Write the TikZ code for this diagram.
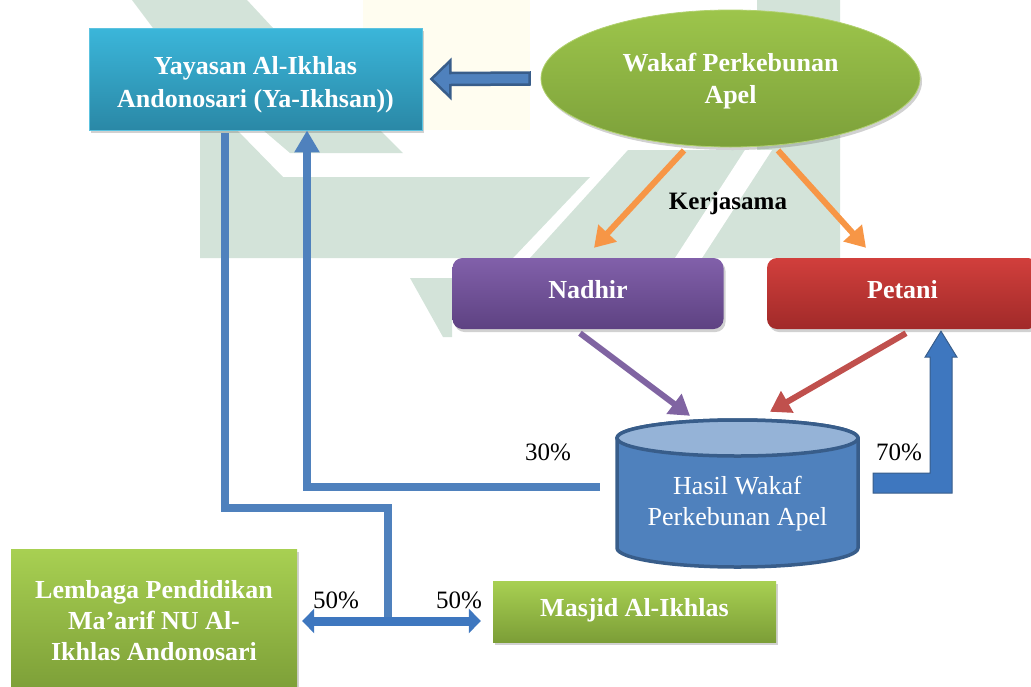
\documentclass[tikz,border=0pt]{standalone}
\usepackage{fontspec}
\setmainfont{Liberation Serif}
\usetikzlibrary{arrows.meta,shadows,calc,shapes.geometric}
\definecolor{wm}{HTML}{D3E3D9}
\definecolor{wmy}{HTML}{FFFDF0}
\definecolor{yayT}{HTML}{3BB6DA}
\definecolor{yayB}{HTML}{2A88A6}
\definecolor{yayE}{HTML}{5CC3E0}
\definecolor{wakT}{HTML}{9DC54B}
\definecolor{wakB}{HTML}{7CA03A}
\definecolor{nadT}{HTML}{8160AA}
\definecolor{nadB}{HTML}{5E4282}
\definecolor{petT}{HTML}{D13F3C}
\definecolor{petB}{HTML}{A12A29}
\definecolor{grnT}{HTML}{A8D052}
\definecolor{grnB}{HTML}{7C9E37}
\definecolor{bluF}{HTML}{4F81BD}
\definecolor{bluD}{HTML}{385D8A}
\definecolor{bluL}{HTML}{95B3D7}
\definecolor{orA}{HTML}{F79646}
\definecolor{puA}{HTML}{8064A2}
\definecolor{reA}{HTML}{C0504D}
\definecolor{dblA}{HTML}{3E77BF}
\begin{document}
\begin{tikzpicture}[x=1pt,y=-1pt,
  lbl/.style={text=white,font=\bfseries\fontsize{26}{32}\selectfont,align=center,inner sep=0pt},
  one/.style={text height=18pt,text depth=8pt},
  shad/.style={drop shadow={shadow xshift=2pt,shadow yshift=-3pt,opacity=0.3,fill=black!60}},
  pct/.style={font=\fontsize{25}{30}\selectfont,inner sep=0pt},
  bline/.style={draw=bluF,line width=7.5pt},
  oarr/.style={draw=orA,line width=6pt,-{Triangle[width=24pt,length=20pt]}},
  parr/.style={draw=puA,line width=6pt,-{Triangle[width=24pt,length=20pt]}},
  rarr/.style={draw=reA,line width=6pt,-{Triangle[width=24pt,length=20pt]}},
]
\useasboundingbox (0,0) rectangle (1031,686);
% watermark
\fill[wmy] (363,0) rectangle (530,130);
\fill[wm] (132,0) -- (247,0) -- (273,28) -- (153,28) -- cycle;
\fill[wm] (200,130) -- (237,130) -- (283,177) -- (590,177) -- (513,258) -- (200,258) -- cycle;
\fill[wm] (263,130) -- (380,130) -- (403,153) -- (290,153) -- cycle;
\fill[wm] (410,278) -- (452,278) -- (452,337) -- (443,337) -- cycle;
\fill[wm] (530,258) -- (628,150) -- (757,150) -- (757,0) -- (840,0) -- (840,258) -- cycle;
\fill[white] (745,150) -- (772,150) -- (702,258) -- (675,258) -- cycle;

% nodes
\node[shad,top color=yayT,bottom color=yayB,draw=yayE,line width=0.8pt,minimum width=333pt,minimum height=102pt] (yay) at (255.5,79) {};
\node[lbl,font=\bfseries\fontsize{26}{33}\selectfont] (yaytxt) at ($(yay.center)+(0,5.5)$) {Yayasan Al-Ikhlas\\Andonosari (Ya-Ikhsan))};
\node[shad,ellipse,top color=wakT,bottom color=wakB,draw=wakT!80!white,line width=0.8pt,minimum width=379pt,minimum height=137pt] (wakaf) at (730.5,78.5) {};
\node[lbl] (wakaftxt) at ($(wakaf.center)+(0,3)$) {Wakaf Perkebunan\\Apel};
\node[font=\bfseries\fontsize{25}{30}\selectfont,inner sep=0pt] (kerja) at (728,203) {Kerjasama};
\node[lbl,one,shad,rounded corners=10pt,top color=nadT,bottom color=nadB,minimum width=271pt,minimum height=71pt] (nadhir) at (588,293.5) {Nadhir};
\node[lbl,one,shad,rounded corners=10pt,top color=petT,bottom color=petB,minimum width=271pt,minimum height=71pt] (petani) at (902.5,293.5) {Petani};
\node[lbl,font=\bfseries\fontsize{26}{31}\selectfont,shad,top color=grnT,bottom color=grnB,minimum width=286pt,minimum height=144pt] (lembaga) at (154,621) {Lembaga Pendidikan\\Ma’arif NU Al-\\Ikhlas Andonosari};
\node[lbl,one,shad,top color=grnT,bottom color=grnB,minimum width=283pt,minimum height=61pt] (masjid) at (634.5,611.5) {Masjid Al-Ikhlas};

% cylinder
\path[fill=bluF,draw=bluD,line width=3.5pt] (617,438) -- (617,548) arc[start angle=180,end angle=0,x radius=120.5,y radius=19] -- (858,438) arc[start angle=0,end angle=-180,x radius=120.5,y radius=18] -- cycle;
\draw[fill=bluL,draw=bluD,line width=3.5pt] (737.5,438) ellipse[x radius=120.5,y radius=18];
\node[minimum width=241pt,minimum height=147pt,inner sep=0pt] (cyl) at (737.5,493.5) {};
\node[text=white,font=\fontsize{26}{31}\selectfont,align=center,inner sep=0pt] (cyltxt) at ($(cyl.center)+(0,10)$) {Hasil Wakaf\\Perkebunan Apel};

% percentages
\node[pct] (p30) at (548,452) {30\%};
\node[pct] (p70) at (899,452) {70\%};
\node[pct] (p50a) at (336,600) {50\%};
\node[pct] (p50b) at (459,600) {50\%};

% block arrow wakaf -> yayasan
\coordinate (bs) at ($(wakaf.west)+(-11,0)$);
\coordinate (bt) at ($(yay.east)+(9,0)$);
\draw[fill=bluF,draw=bluD,line width=2.5pt,line join=miter] ($(bs)+(0,-6)$) -- ($(bt)+(19,-6)$) -- ($(bt)+(19,-18.5)$) -- (bt) -- ($(bt)+(19,18.5)$) -- ($(bt)+(19,6)$) -- ($(bs)+(0,6)$) -- cycle;

% orange, purple, red arrows
\draw[oarr] ($(wakaf.south)+(-46.5,3)$) -- ($(nadhir.north)+(6,-10)$);
\draw[oarr] ($(wakaf.south)+(47.5,3)$) -- ($(petani.north)+(-36.5,-10)$);
\draw[parr] ($(nadhir.south)+(-8,4)$) -- ($(cyl.north)+(-47.5,-4)$);
\draw[rarr] ($(petani.south)+(3.5,4)$) -- ($(cyl.north)+(32.5,-8)$);

% 70% L arrow
\coordinate (lt) at ($(petani.south)+(38.5,2)$);
\coordinate (la) at ($(cyl.east)+(15,-10.5)$);
\draw[fill=dblA,draw=bluD,line width=1pt] ($(la)+(0,-10)$) -- ($(lt)+(-11,142)$) -- ($(lt)+(-11,26)$) -- ($(lt)+(-16,26)$) -- (lt) -- ($(lt)+(16,26)$) -- ($(lt)+(11,26)$) -- ($(lt)+(11,162)$) -- ($(la)+(0,10)$) -- cycle;

% 30% line back to yayasan
\draw[bline,-{Triangle[width=24pt,length=22pt]}] ($(cyl.west)+(-17,-6.5)$) -| ($(yay.south)+(51.5,0)$);

% distribution line
\coordinate (split) at (388,621);
\draw[bline,line join=miter] ($(yay.south)+(-30.5,3)$) |- (388,508) -- (split);
\draw[draw=dblA,line width=9pt,{Triangle[width=24pt,length=12pt]}-{Triangle[width=24pt,length=12pt]}] ($(lembaga.east)+(5,0)$) -- ($(masjid.west)+(-12,9.5)$);
\end{tikzpicture}
\end{document}
